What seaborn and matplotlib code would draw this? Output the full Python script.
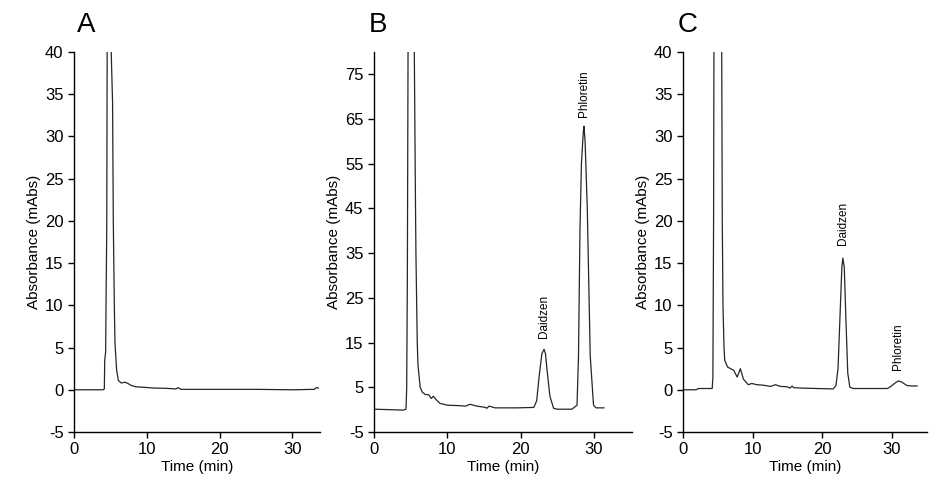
import matplotlib
matplotlib.use("Agg")
import matplotlib.pyplot as plt
import seaborn as sns

# chromatogram A (blank)
a_time = [0, 2, 4.0, 4.17, 4.22, 4.35, 4.42, 4.5, 4.57, 4.8, 5.05, 5.3, 5.4, 5.54,
          5.63, 5.86, 6.1, 6.5, 7.0, 7.4, 7.9, 8.5, 9.5, 11, 12.5, 14.0, 14.3, 14.7,
          16, 20, 25, 30, 33.0, 33.3, 33.6]
a_abs = [0, 0, 0, 0.1, 3.5, 4.5, 12, 19, 45, 130, 42, 34, 20, 10,
         5.5, 2.3, 1.1, 0.8, 0.9, 0.75, 0.5, 0.35, 0.3, 0.2, 0.18, 0.1, 0.25, 0.05,
         0.05, 0.05, 0.05, 0.0, 0.05, 0.25, 0.2]

# chromatogram B (standards)
b_time = [0, 2, 4.0, 4.37, 4.46, 4.55, 4.7, 5.0, 5.5, 5.64, 5.72, 5.9, 6.0, 6.3,
          6.6, 7.0, 7.5, 7.8, 8.1, 8.5, 9.0, 10, 11.5, 12.5, 13.1, 14, 15.2, 15.4,
          15.7, 16.5, 18, 19.5, 21.8, 22.2, 22.5, 22.9, 23.2, 23.4, 23.6, 24.0, 24.5,
          25, 27.0, 27.7, 27.9, 28.1, 28.3, 28.55, 28.65, 28.8, 29.1, 29.5, 29.95,
          30.3, 31.4]
b_abs = [0.1, 0.0, -0.1, 0.1, 5, 29, 110, 220, 80, 50, 35, 15, 10, 5,
         3.9, 3.4, 3.3, 2.5, 3.0, 2.2, 1.4, 1.0, 0.9, 0.8, 1.2, 0.8, 0.5, 0.3,
         0.8, 0.4, 0.4, 0.4, 0.5, 2.0, 7, 12.5, 13.5, 12.5, 9, 3, 0.3,
         0.1, 0.1, 1.0, 12, 40, 55, 62, 63.4, 60, 45, 12, 1.0,
         0.4, 0.4]

# chromatogram C (sample)
c_time = [0, 1.9, 2.2, 4.2, 4.3, 4.4, 4.5, 5.0, 5.55, 5.65, 5.75, 5.9, 6.0, 6.4,
          7.3, 7.8, 8.25, 8.7, 9.4, 9.9, 10.6, 11.5, 12.6, 13.3, 14.0, 15.0, 15.4,
          15.7, 15.9, 17, 19.3, 21.6, 22.0, 22.3, 22.6, 22.85, 23.0, 23.2, 23.45,
          23.7, 24.0, 24.5, 26, 29.4, 29.9, 30.5, 31.0, 31.5, 32.2, 33.0, 33.7]
c_abs = [0, 0, 0.15, 0.15, 1.5, 20, 60, 140, 45, 20, 10, 5, 3.5, 2.7,
         2.3, 1.5, 2.5, 1.25, 0.6, 0.75, 0.6, 0.55, 0.4, 0.6, 0.4, 0.35, 0.2,
         0.45, 0.25, 0.2, 0.15, 0.1, 0.5, 2.5, 9, 14.5, 15.6, 14.5, 8,
         2.0, 0.3, 0.15, 0.15, 0.15, 0.4, 0.8, 1.05, 0.9, 0.5, 0.45, 0.45]

panel_names = ["A", "B", "C"]
times = [a_time, b_time, c_time]
signals = [a_abs, b_abs, c_abs]
y_limits = [(-5, 40), (-5, 80), (-5, 40)]
y_ticks = [list(range(-5, 41, 5)), list(range(-5, 80, 10)), list(range(-5, 41, 5))]
x_limits = [(0, 33.8), (0, 35.2), (0, 35.1)]

# peak labels: (panel, text, time, label bottom)
peak_labels = [
    (1, "Daidzen", 23.2, 16.0),
    (1, "Phloretin", 28.6, 65.4),
    (2, "Daidzen", 23.0, 17.1),
    (2, "Phloretin", 31.0, 2.3),
]

sns.set_style("ticks")
plt.rcParams['font.family'] = ['Liberation Sans', 'DejaVu Sans']
plt.rcParams['axes.unicode_minus'] = False
for key in ['text.color', 'axes.labelcolor', 'xtick.color', 'ytick.color']:
    plt.rcParams[key] = 'black'

fig = plt.figure(figsize=(9.4, 4.96), dpi=100)
boxes = [
    [74 / 940, 64 / 496, 246 / 940, 380 / 496],
    [374 / 940, 64 / 496, 258 / 940, 380 / 496],
    [683 / 940, 64 / 496, 244 / 940, 380 / 496],
]
letter_x = [86, 378, 688]

axes = []
for i, box in enumerate(boxes):
    ax = fig.add_axes(box)
    sns.lineplot(x=times[i], y=signals[i], ax=ax, estimator=None, sort=False,
                 color="#262626", linewidth=0.9)
    ax.set_xlim(*x_limits[i])
    ax.set_ylim(*y_limits[i])
    ax.set_xticks([0, 10, 20, 30])
    ax.set_yticks(y_ticks[i])
    ax.set_xlabel("Time (min)", fontsize=11, labelpad=2)
    ax.set_ylabel("Absorbance (mAbs)", fontsize=11, labelpad=3)
    ax.tick_params(direction="out", length=4, width=1, labelsize=12, colors="black")
    for side in ["left", "bottom"]:
        ax.spines[side].set_color("black")
        ax.spines[side].set_linewidth(1)
    sns.despine(ax=ax)
    fig.text(letter_x[i] / 940, 1 - 25 / 496, panel_names[i], fontsize=20,
             ha="center", va="center")
    axes.append(ax)

for idx, name, t, y in peak_labels:
    axes[idx].text(t, y, name, rotation=90, ha="center", va="bottom", fontsize=8.5)

plt.savefig("out.png", dpi=100)
